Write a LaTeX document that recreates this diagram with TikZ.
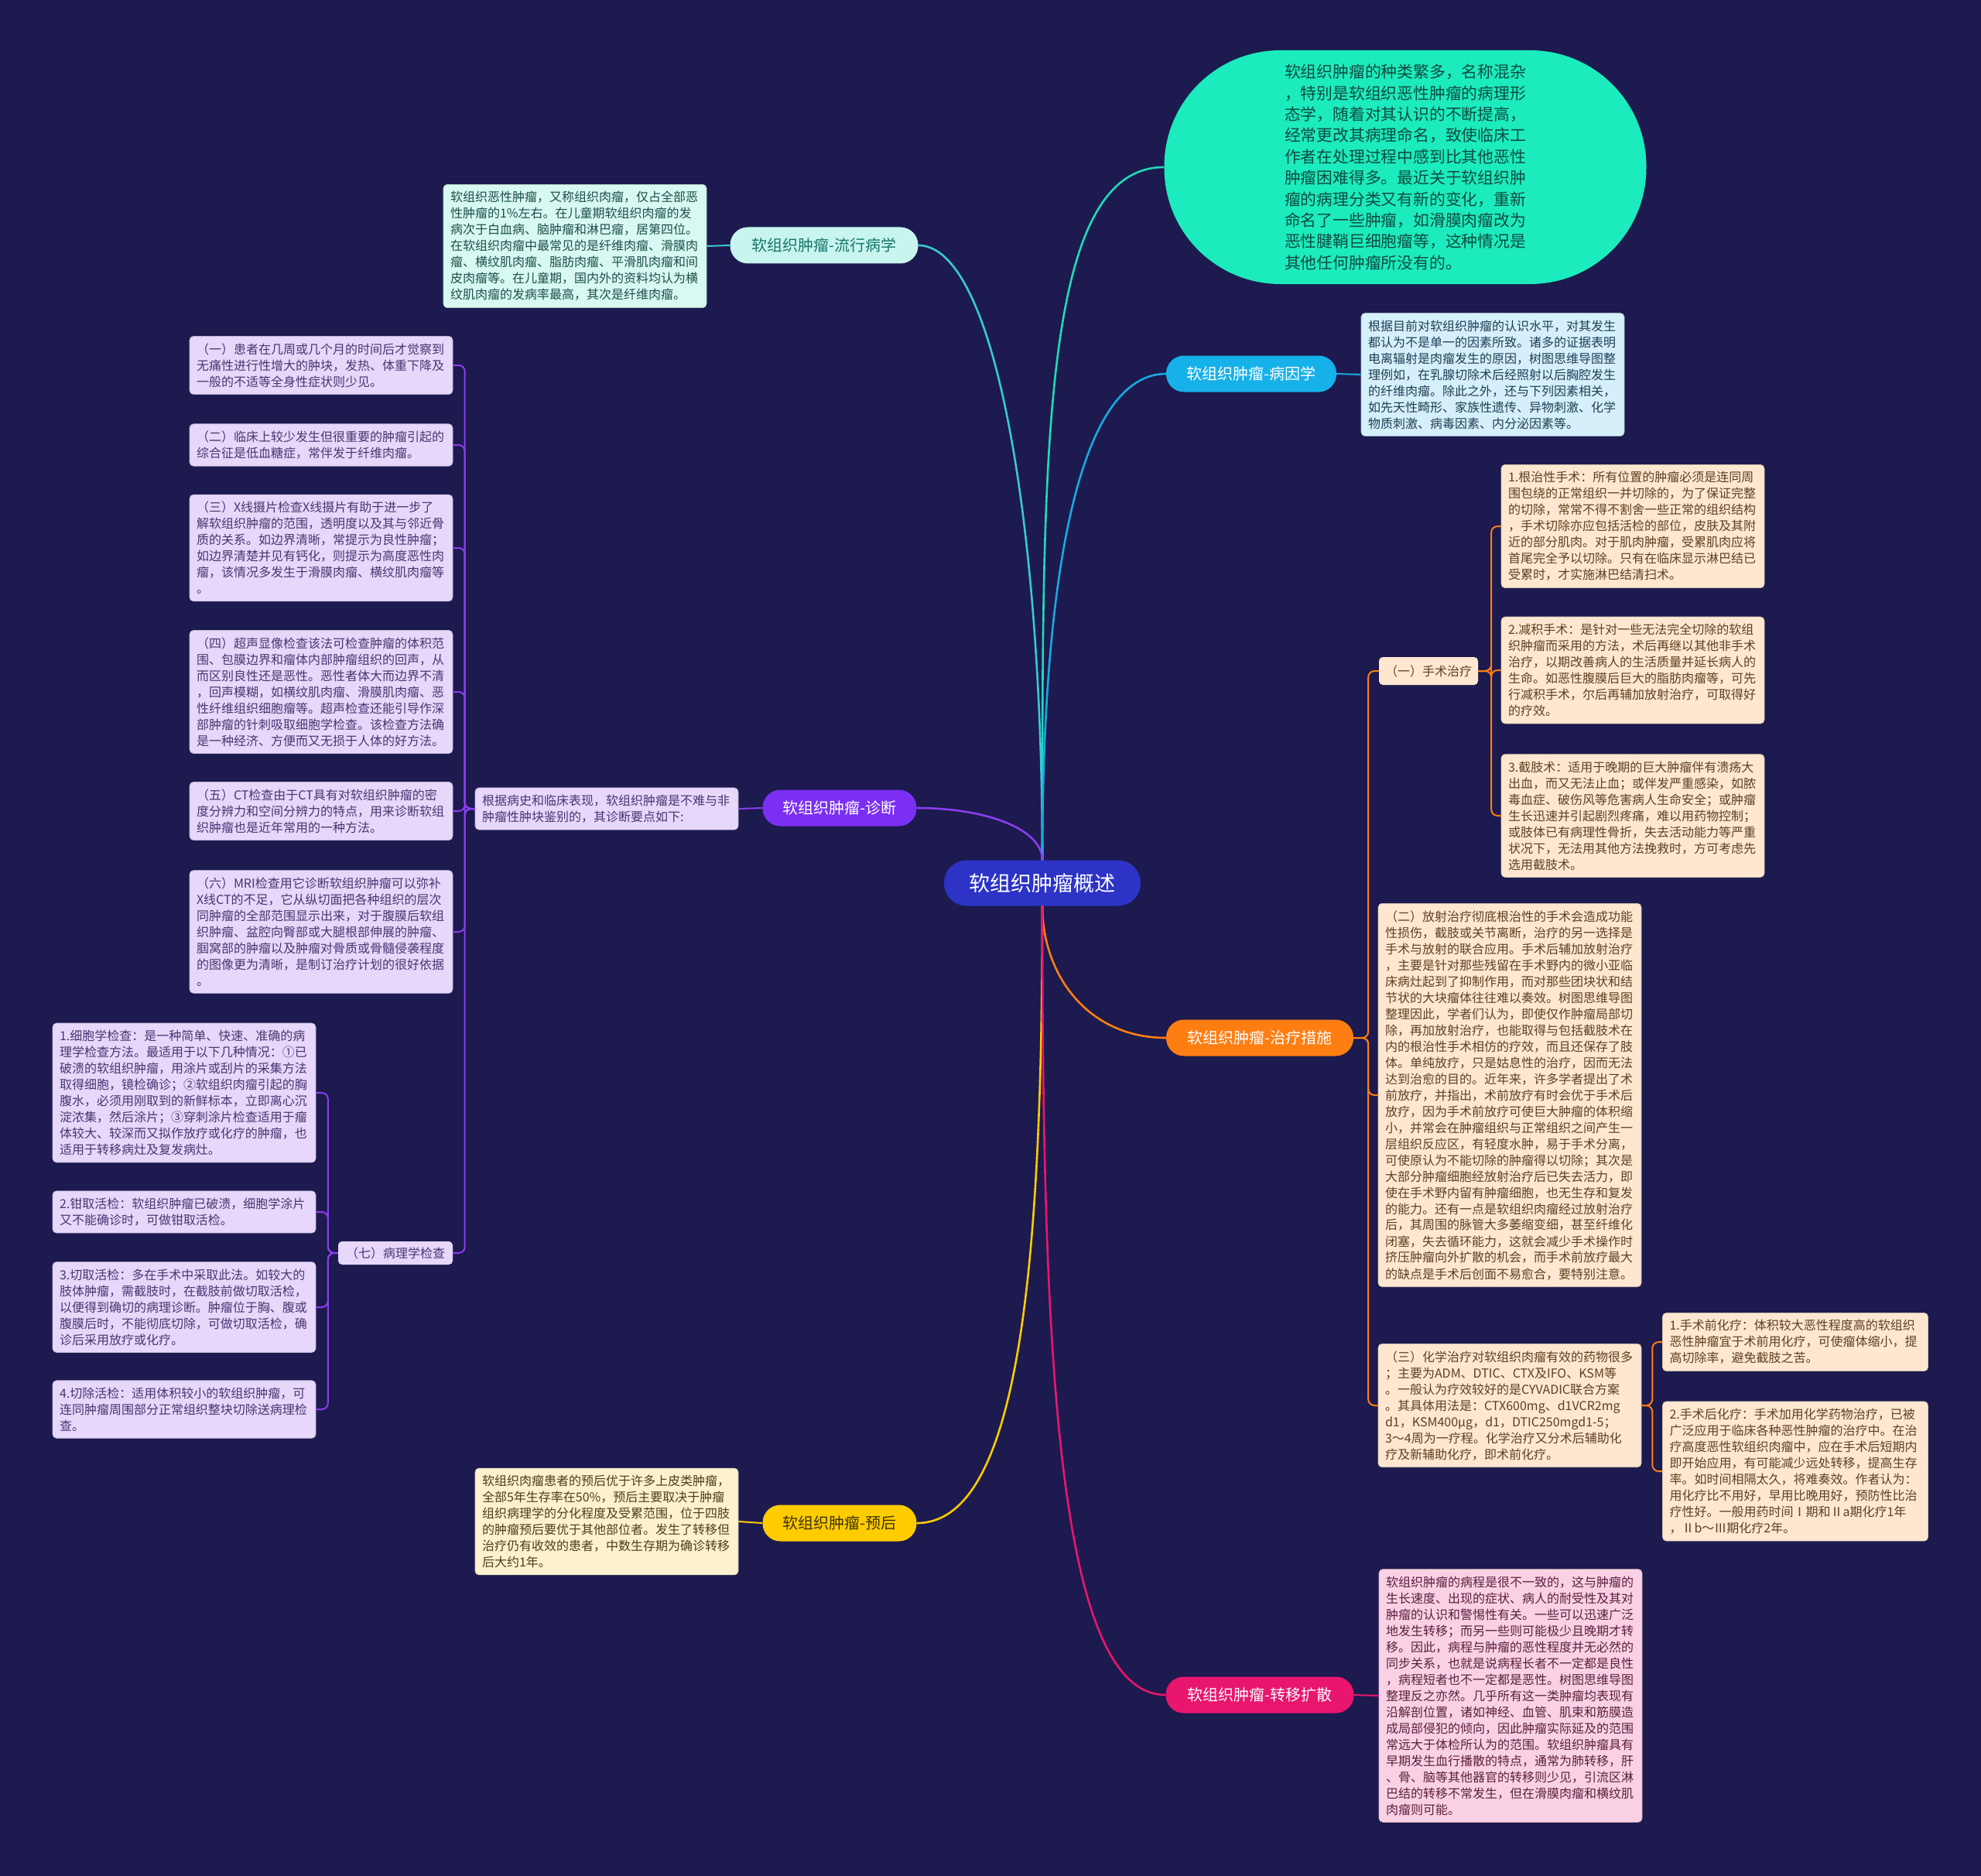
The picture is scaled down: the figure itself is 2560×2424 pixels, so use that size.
\documentclass[tikz,border=0pt]{standalone}
\usepackage{fontspec}
\setmainfont{Noto Sans CJK SC}
\definecolor{bg}{HTML}{1C1A4E}
\definecolor{rootfill}{HTML}{2C33C6}
\definecolor{bubblefill}{HTML}{1CEBBE}
\definecolor{bubbletext}{HTML}{114A3E}
\definecolor{bubbleline}{HTML}{22D9B8}
\definecolor{epiline}{HTML}{38C9D3}
\definecolor{epifill}{HTML}{C8F5EE}
\definecolor{epitext}{HTML}{16756B}
\definecolor{epidetfill}{HTML}{D8F8F2}
\definecolor{epidettext}{HTML}{1D4F4A}
\definecolor{etiofill}{HTML}{17B1EA}
\definecolor{etioline}{HTML}{1BA8E0}
\definecolor{etiodetfill}{HTML}{D5F0FB}
\definecolor{etiodettext}{HTML}{1F3D55}
\definecolor{diagfill}{HTML}{7B2FF3}
\definecolor{diagline}{HTML}{8B3DF0}
\definecolor{diagdetfill}{HTML}{E6D7FB}
\definecolor{diagdettext}{HTML}{4A3570}
\definecolor{treatfill}{HTML}{FF7E12}
\definecolor{treatline}{HTML}{FF7E12}
\definecolor{treatdetfill}{HTML}{FDE7D0}
\definecolor{treatdettext}{HTML}{5E3F22}
\definecolor{progfill}{HTML}{FFCC00}
\definecolor{progtext}{HTML}{3E3300}
\definecolor{progline}{HTML}{FFCC00}
\definecolor{progdetfill}{HTML}{FDF2CD}
\definecolor{progdettext}{HTML}{4A3F15}
\definecolor{metafill}{HTML}{E8166E}
\definecolor{metaline}{HTML}{E8166E}
\definecolor{metadetfill}{HTML}{FAD1E4}
\definecolor{metadettext}{HTML}{5A1F3C}
\begin{document}
\begin{tikzpicture}[x=1pt,y=1pt,
  rootnode/.style={fill=rootfill, text=white, rounded corners=29pt, minimum width=254pt, minimum height=59pt, inner sep=0pt, font=\fontsize{27}{32}\selectfont},
  branchnode/.style={rounded corners=23pt, minimum height=47pt, inner sep=0pt, font=\fontsize{20}{24}\selectfont},
  bubblenode/.style={fill=bubblefill, text=bubbletext, rounded corners=150pt, minimum width=623pt, minimum height=302pt, inner sep=0pt, align=left, font=\fontsize{20.8}{27.4}\selectfont},
  detailbox/.style={rounded corners=5pt, text width=322pt, inner xsep=9pt, inner ysep=9pt, align=left, font=\fontsize{16}{21}\selectfont},
  smallbox/.style={rounded corners=5pt, inner xsep=8pt, inner ysep=0pt, minimum height=30pt, font=\fontsize{16}{21}\selectfont},
  epidet/.style={detailbox, fill=epidetfill, text=epidettext, draw=epidetfill!85!black, line width=0.6pt},
  etiodet/.style={detailbox, fill=etiodetfill, text=etiodettext, draw=etiodetfill!85!black, line width=0.6pt},
  diagdet/.style={detailbox, fill=diagdetfill, text=diagdettext, draw=diagdetfill!85!black, line width=0.6pt},
  treatdet/.style={detailbox, fill=treatdetfill, text=treatdettext, draw=treatdetfill!85!black, line width=0.6pt},
  progdet/.style={detailbox, fill=progdetfill, text=progdettext, draw=progdetfill!85!black, line width=0.6pt},
  metadet/.style={detailbox, fill=metadetfill, text=metadettext, draw=metadetfill!85!black, line width=0.6pt},
  mainlink/.style={line width=2.6pt},
  sublink/.style={line width=2pt, rounded corners=8pt}
]
\fill[bg] (0,0) rectangle (2560,-2424);
\useasboundingbox (0,0) rectangle (2560,-2424);

% root
\node[rootnode] (root) at (1347,-1141) {软组织肿瘤概述};

% bubble
\node[bubblenode] (bubble) at (1816,-216) {软组织肿瘤的种类繁多，名称混杂\\
，特别是软组织恶性肿瘤的病理形\\
态学，随着对其认识的不断提高，\\
经常更改其病理命名，致使临床工\\
作者在处理过程中感到比其他恶性\\
肿瘤困难得多。最近关于软组织肿\\
瘤的病理分类又有新的变化，重新\\
命名了一些肿瘤，如滑膜肉瘤改为\\
恶性腱鞘巨细胞瘤等，这种情况是\\
其他任何肿瘤所没有的。};

% branches
\node[branchnode, fill=epifill, text=epitext, minimum width=243pt] (epi) at (1065,-317) {软组织肿瘤-流行病学};
\node[branchnode, fill=etiofill, text=white, minimum width=220pt] (etio) at (1617,-483) {软组织肿瘤-病因学};
\node[branchnode, fill=diagfill, text=white, minimum width=199pt] (diag) at (1085,-1044) {软组织肿瘤-诊断};
\node[branchnode, fill=treatfill, text=white, minimum width=242pt] (treat) at (1628,-1341) {软组织肿瘤-治疗措施};
\node[branchnode, fill=progfill, text=progtext, minimum width=199pt] (prog) at (1085,-1968) {软组织肿瘤-预后};
\node[branchnode, fill=metafill, text=white, minimum width=243pt] (meta) at (1628,-2190) {软组织肿瘤-转移扩散};

% epidemiology detail
\node[epidet] (epid) at (743,-318) {软组织恶性肿瘤，又称组织肉瘤，仅占全部恶\\
性肿瘤的1\%左右。在儿童期软组织肉瘤的发\\
病次于白血病、脑肿瘤和淋巴瘤，居第四位。\\
在软组织肉瘤中最常见的是纤维肉瘤、滑膜肉\\
瘤、横纹肌肉瘤、脂肪肉瘤、平滑肌肉瘤和间\\
皮肉瘤等。在儿童期，国内外的资料均认为横\\
纹肌肉瘤的发病率最高，其次是纤维肉瘤。};

% etiology detail
\node[etiodet] (etiod) at (1929,-484) {根据目前对软组织肿瘤的认识水平，对其发生\\
都认为不是单一的因素所致。诸多的证据表明\\
电离辐射是肉瘤发生的原因，树图思维导图整\\
理例如，在乳腺切除术后经照射以后胸腔发生\\
的纤维肉瘤。除此之外，还与下列因素相关，\\
如先天性畸形、家族性遗传、异物刺激、化学\\
物质刺激、病毒因素、内分泌因素等。};

% diagnosis
\node[diagdet] (diagi) at (784,-1045) {根据病史和临床表现，软组织肿瘤是不难与非\\
肿瘤性肿块鉴别的，其诊断要点如下:};

\node[diagdet] (d1) at (415,-472) {（一）患者在几周或几个月的时间后才觉察到\\
无痛性进行性增大的肿块，发热、体重下降及\\
一般的不适等全身性症状则少见。};
\node[diagdet] (d2) at (415,-575) {（二）临床上较少发生但很重要的肿瘤引起的\\
综合征是低血糖症，常伴发于纤维肉瘤。};
\node[diagdet] (d3) at (415,-708) {（三）X线摄片检查X线摄片有助于进一步了\\
解软组织肿瘤的范围，透明度以及其与邻近骨\\
质的关系。如边界清晰，常提示为良性肿瘤；\\
如边界清楚并见有钙化，则提示为高度恶性肉\\
瘤，该情况多发生于滑膜肉瘤、横纹肌肉瘤等\\
。};
\node[diagdet] (d4) at (415,-894) {（四）超声显像检查该法可检查肿瘤的体积范\\
围、包膜边界和瘤体内部肿瘤组织的回声，从\\
而区别良性还是恶性。恶性者体大而边界不清\\
，回声模糊，如横纹肌肉瘤、滑膜肌肉瘤、恶\\
性纤维组织细胞瘤等。超声检查还能引导作深\\
部肿瘤的针刺吸取细胞学检查。该检查方法确\\
是一种经济、方便而又无损于人体的好方法。};
\node[diagdet] (d5) at (415,-1048) {（五）CT检查由于CT具有对软组织肿瘤的密\\
度分辨力和空间分辨力的特点，用来诊断软组\\
织肿瘤也是近年常用的一种方法。};
\node[diagdet] (d6) at (415,-1204) {（六）MRI检查用它诊断软组织肿瘤可以弥补\\
X线CT的不足，它从纵切面把各种组织的层次\\
同肿瘤的全部范围显示出来，对于腹膜后软组\\
织肿瘤、盆腔向臀部或大腿根部伸展的肿瘤、\\
腘窝部的肿瘤以及肿瘤对骨质或骨髓侵袭程度\\
的图像更为清晰，是制订治疗计划的很好依据\\
。};
\node[smallbox, fill=diagdetfill, text=diagdettext, minimum width=148pt] (d7) at (511,-1619) {（七）病理学检查};

\node[diagdet] (p1) at (238,-1412) {1.细胞学检查：是一种简单、快速、准确的病\\
理学检查方法。最适用于以下几种情况：①已\\
破溃的软组织肿瘤，用涂片或刮片的采集方法\\
取得细胞，镜检确诊；②软组织肉瘤引起的胸\\
腹水，必须用刚取到的新鲜标本，立即离心沉\\
淀浓集，然后涂片；③穿刺涂片检查适用于瘤\\
体较大、较深而又拟作放疗或化疗的肿瘤，也\\
适用于转移病灶及复发病灶。};
\node[diagdet] (p2) at (238,-1566) {2.钳取活检：软组织肿瘤已破溃，细胞学涂片\\
又不能确诊时，可做钳取活检。};
\node[diagdet] (p3) at (238,-1689) {3.切取活检：多在手术中采取此法。如较大的\\
肢体肿瘤，需截肢时，在截肢前做切取活检，\\
以便得到确切的病理诊断。肿瘤位于胸、腹或\\
腹膜后时，不能彻底切除，可做切取活检，确\\
诊后采用放疗或化疗。};
\node[diagdet] (p4) at (238,-1821) {4.切除活检：适用体积较小的软组织肿瘤，可\\
连同肿瘤周围部分正常组织整块切除送病理检\\
查。};

% treatment
\node[smallbox, fill=treatdetfill, text=treatdettext, minimum width=127pt, minimum height=36pt] (t1) at (1846,-867) {（一）手术治疗};
\node[treatdet] (s1) at (2110,-680) {1.根治性手术：所有位置的肿瘤必须是连同周\\
围包绕的正常组织一并切除的，为了保证完整\\
的切除，常常不得不割舍一些正常的组织结构\\
，手术切除亦应包括活检的部位，皮肤及其附\\
近的部分肌肉。对于肌肉肿瘤，受累肌肉应将\\
首尾完全予以切除。只有在临床显示淋巴结已\\
受累时，才实施淋巴结清扫术。};
\node[treatdet] (s2) at (2110,-866) {2.减积手术：是针对一些无法完全切除的软组\\
织肿瘤而采用的方法，术后再继以其他非手术\\
治疗，以期改善病人的生活质量并延长病人的\\
生命。如恶性腹膜后巨大的脂肪肉瘤等，可先\\
行减积手术，尔后再辅加放射治疗，可取得好\\
的疗效。};
\node[treatdet] (s3) at (2110,-1054) {3.截肢术：适用于晚期的巨大肿瘤伴有溃疡大\\
出血，而又无法止血；或伴发严重感染，如脓\\
毒血症、破伤风等危害病人生命安全；或肿瘤\\
生长迅速并引起剧烈疼痛，难以用药物控制；\\
或肢体已有病理性骨折，失去活动能力等严重\\
状况下，无法用其他方法挽救时，方可考虑先\\
选用截肢术。};
\node[treatdet] (t2) at (1951,-1415) {（二）放射治疗彻底根治性的手术会造成功能\\
性损伤，截肢或关节离断，治疗的另一选择是\\
手术与放射的联合应用。手术后辅加放射治疗\\
，主要是针对那些残留在手术野内的微小亚临\\
床病灶起到了抑制作用，而对那些团块状和结\\
节状的大块瘤体往往难以奏效。树图思维导图\\
整理因此，学者们认为，即使仅作肿瘤局部切\\
除，再加放射治疗，也能取得与包括截肢术在\\
内的根治性手术相仿的疗效，而且还保存了肢\\
体。单纯放疗，只是姑息性的治疗，因而无法\\
达到治愈的目的。近年来，许多学者提出了术\\
前放疗，并指出，术前放疗有时会优于手术后\\
放疗，因为手术前放疗可使巨大肿瘤的体积缩\\
小，并常会在肿瘤组织与正常组织之间产生一\\
层组织反应区，有轻度水肿，易于手术分离，\\
可使原认为不能切除的肿瘤得以切除；其次是\\
大部分肿瘤细胞经放射治疗后已失去活力，即\\
使在手术野内留有肿瘤细胞，也无生存和复发\\
的能力。还有一点是软组织肉瘤经过放射治疗\\
后，其周围的脉管大多萎缩变细，甚至纤维化\\
闭塞，失去循环能力，这就会减少手术操作时\\
挤压肿瘤向外扩散的机会，而手术前放疗最大\\
的缺点是手术后创面不易愈合，要特别注意。};
\node[treatdet] (t3) at (1951,-1816) {（三）化学治疗对软组织肉瘤有效的药物很多\\
；主要为ADM、DTIC、CTX及IFO、KSM等\\
。一般认为疗效较好的是CYVADIC联合方案\\
。其具体用法是：CTX600mg、d1VCR2mg\\
d1，KSM400μg，d1，DTIC250mgd1-5；\\
3～4周为一疗程。化学治疗又分术后辅助化\\
疗及新辅助化疗，即术前化疗。};
\node[treatdet, text width=325pt] (c1) at (2320,-1734) {1.手术前化疗：体积较大恶性程度高的软组织\\
恶性肿瘤宜于术前用化疗，可使瘤体缩小，提\\
高切除率，避免截肢之苦。};
\node[treatdet, text width=325pt] (c2) at (2320,-1901) {2.手术后化疗：手术加用化学药物治疗，已被\\
广泛应用于临床各种恶性肿瘤的治疗中。在治\\
疗高度恶性软组织肉瘤中，应在手术后短期内\\
即开始应用，有可能减少远处转移，提高生存\\
率。如时间相隔太久，将难奏效。作者认为：\\
用化疗比不用好，早用比晚用好，预防性比治\\
疗性好。一般用药时间Ⅰ期和Ⅱa期化疗1年\\
，Ⅱb～Ⅲ期化疗2年。};

% prognosis
\node[progdet] (progd) at (784,-1966) {软组织肉瘤患者的预后优于许多上皮类肿瘤，\\
全部5年生存率在50\%，预后主要取决于肿瘤\\
组织病理学的分化程度及受累范围，位于四肢\\
的肿瘤预后要优于其他部位者。发生了转移但\\
治疗仍有收效的患者，中数生存期为确诊转移\\
后大约1年。};

% metastasis
\node[metadet] (metad) at (1952,-2191) {软组织肿瘤的病程是很不一致的，这与肿瘤的\\
生长速度、出现的症状、病人的耐受性及其对\\
肿瘤的认识和警惕性有关。一些可以迅速广泛\\
地发生转移；而另一些则可能极少且晚期才转\\
移。因此，病程与肿瘤的恶性程度并无必然的\\
同步关系，也就是说病程长者不一定都是良性\\
，病程短者也不一定都是恶性。树图思维导图\\
整理反之亦然。几乎所有这一类肿瘤均表现有\\
沿解剖位置，诸如神经、血管、肌束和筋膜造\\
成局部侵犯的倾向，因此肿瘤实际延及的范围\\
常远大于体检所认为的范围。软组织肿瘤具有\\
早期发生血行播散的特点，通常为肺转移，肝\\
、骨、脑等其他器官的转移则少见，引流区淋\\
巴结的转移不常发生，但在滑膜肉瘤和横纹肌\\
肉瘤则可能。};

% main connectors
\draw[mainlink, bubbleline] (root.north) to[out=90,in=180,out distance=520pt,in distance=160pt] (bubble.west);
\draw[mainlink, epiline] (root.north) to[out=90,in=0,out distance=430pt,in distance=100pt] (epi.east);
\draw[mainlink, etioline] (root.north) to[out=90,in=180,out distance=380pt,in distance=110pt] (etio.west);
\draw[mainlink, diagline] (root.north) to[out=90,in=0,out distance=40pt,in distance=90pt] (diag.east);
\draw[mainlink, treatline] (root.south) to[out=-90,in=180,out distance=90pt,in distance=100pt] (treat.west);
\draw[mainlink, progline] (root.south) to[out=-90,in=0,out distance=480pt,in distance=130pt] (prog.east);
\draw[mainlink, metaline] (root.south) to[out=-90,in=180,out distance=580pt,in distance=140pt] (meta.west);

% sub connectors
\draw[sublink, epiline] (epi.west) -- (epid.east);
\draw[sublink, etioline] (etio.east) -- (etiod.west);
\draw[sublink, diagline] (diag.west) -- (diagi.east);
\draw[sublink, progline] (prog.west) -- (progd.east);
\draw[sublink, metaline] (meta.east) -- (metad.west);

\foreach \c in {d1,d2,d3,d4,d5,d6,d7}
  \draw[sublink, diagline] (diagi.west) -- ++(-13,0) |- (\c.east);
\foreach \c in {p1,p2,p3,p4}
  \draw[sublink, diagline] (d7.west) -- ++(-13,0) |- (\c.east);
\foreach \c in {t1,t2,t3}
  \draw[sublink, treatline] (treat.east) -- ++(19,0) |- (\c.west);
\foreach \c in {s1,s2,s3}
  \draw[sublink, treatline] (t1.east) -- ++(17,0) |- (\c.west);
\foreach \c in {c1,c2}
  \draw[sublink, treatline] (t3.east) -- ++(14,0) |- (\c.west);
\end{tikzpicture}
\end{document}
